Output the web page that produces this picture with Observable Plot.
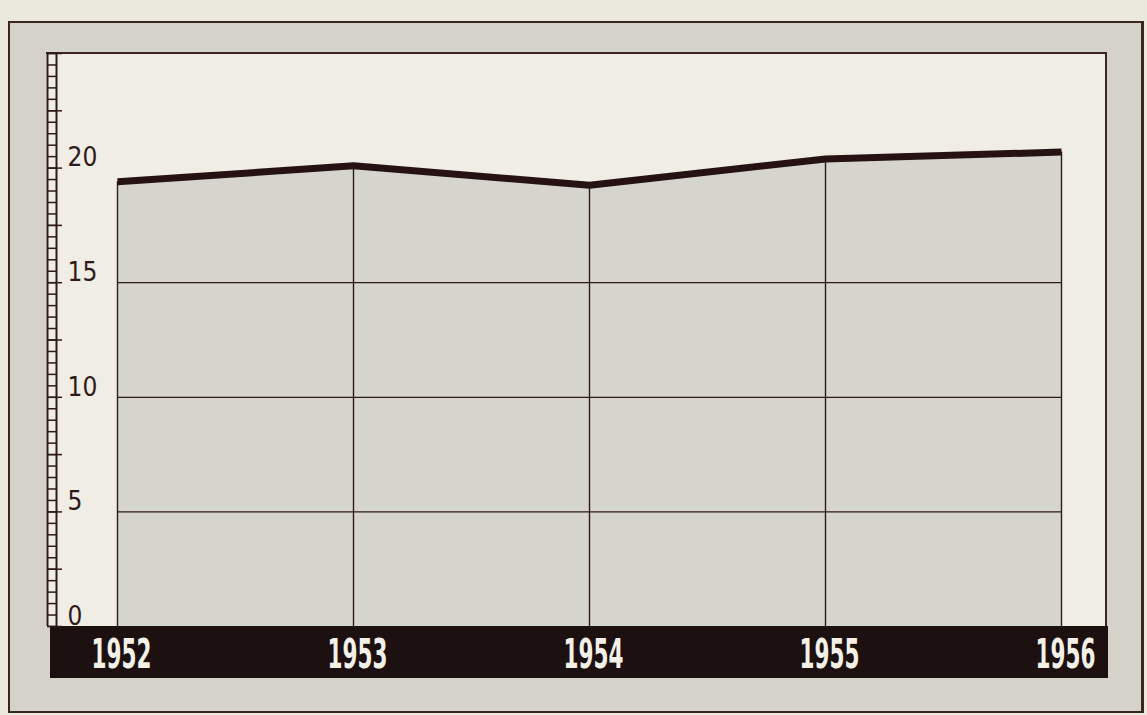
<!DOCTYPE html>
<html>
<head>
<meta charset="utf-8">
<script src="https://cdn.jsdelivr.net/npm/d3@7"></script>
<script src="https://cdn.jsdelivr.net/npm/@observablehq/plot@0.6"></script>
<style>
  html, body { margin: 0; padding: 0; background: #ebe8de; }
  #wrap { position: relative; width: 1147px; height: 715px; overflow: hidden; }
  .outer { position: absolute; left: 8px; top: 21px; width: 1131px; height: 688px;
           border: 2px solid #3a2424; border-right-width: 3px; background: #d5d3c9; }
  .inner { position: absolute; left: 46px; top: 52px; width: 1059px; height: 574px;
           border-top: 2px solid #3a2424; border-right: 2px solid #3a2424; background: #f0ede5; }
  .band { position: absolute; left: 50px; top: 626px; width: 1058px; height: 52px; background: #1c1010; }
  #chart { position: absolute; left: 0; top: 0; }
</style>
</head>
<body>
<div id="wrap">
  <div class="outer"></div>
  <div class="inner"></div>
  <div class="band"></div>
  <div id="chart"></div>
</div>
<script>
// Data
const years = [1952, 1953, 1954, 1955, 1956];
const values = [19.4, 20.1, 19.25, 20.4, 20.7];
const gridValues = [5, 10, 15];
const yLabels = [0, 5, 10, 15, 20];
const yMax = 25;
const rungTicks = d3.range(0, yMax + 0.001, 0.5);
const majorTicks = d3.range(0, yMax + 0.001, 2.5);

const data = years.map((year, i) => ({year, value: values[i]}));

const ink = "#2e1a1a";
const lineInk = "#261212";
const narrow = "'Liberation Sans Narrow', 'DejaVu Sans Condensed', 'Roboto Condensed', sans-serif";

const chart = Plot.plot({
  width: 1147,
  height: 715,
  marginLeft: 117,
  marginRight: 86,
  marginTop: 53,
  marginBottom: 89,
  style: {background: "transparent", overflow: "visible"},
  x: {domain: [years[0], years[years.length - 1]], axis: null},
  y: {domain: [0, yMax], axis: null},
  marks: [
    Plot.areaY(data, {x: "year", y: "value", fill: "#d6d5cd"}),
    Plot.ruleY(gridValues, {x1: years[0], x2: years[years.length - 1], stroke: ink, strokeWidth: 1.3}),
    Plot.ruleX(data, {x: "year", y1: 0, y2: "value", stroke: ink, strokeWidth: 1.4}),
    Plot.line(data, {x: "year", y: "value", stroke: lineInk, strokeWidth: 7, strokeLinecap: "butt", strokeLinejoin: "miter"}),
    // ruler (ladder) on the left
    Plot.ruleX([years[0]], {y1: 0, y2: yMax, dx: -61, stroke: ink, strokeWidth: 2}),
    Plot.ruleX([years[0]], {y1: 0, y2: yMax, dx: -70, stroke: ink, strokeWidth: 2}),
    Plot.axisY(rungTicks, {anchor: "left", tickSize: 9, dx: -61, stroke: ink, strokeWidth: 1.5, fill: "none", label: null}),
    Plot.axisY(majorTicks, {anchor: "left", tickSize: 15, dx: -55, stroke: ink, strokeWidth: 1.5, fill: "none", label: null}),
    Plot.axisY(yLabels, {anchor: "left", tickSize: 0, textAnchor: "start", dx: -41, dy: -10,
      fontSize: 26, fontFamily: narrow, fill: ink, label: null, tickFormat: d => String(d)}),
    Plot.axisX(years, {anchor: "bottom", tickSize: 0, tickPadding: 12, dx: 4,
      fontSize: 41, fontWeight: "bold", fontFamily: narrow, fill: "#f3f0e8", label: null,
      tickFormat: d => String(d)})
  ]
});

document.getElementById("chart").appendChild(chart);

// compress year labels to match the condensed poster lettering
chart.querySelectorAll('g[aria-label="x-axis tick label"] text').forEach(t => {
  t.setAttribute("textLength", 60);
  t.setAttribute("lengthAdjust", "spacingAndGlyphs");
});
</script>
</body>
</html>
